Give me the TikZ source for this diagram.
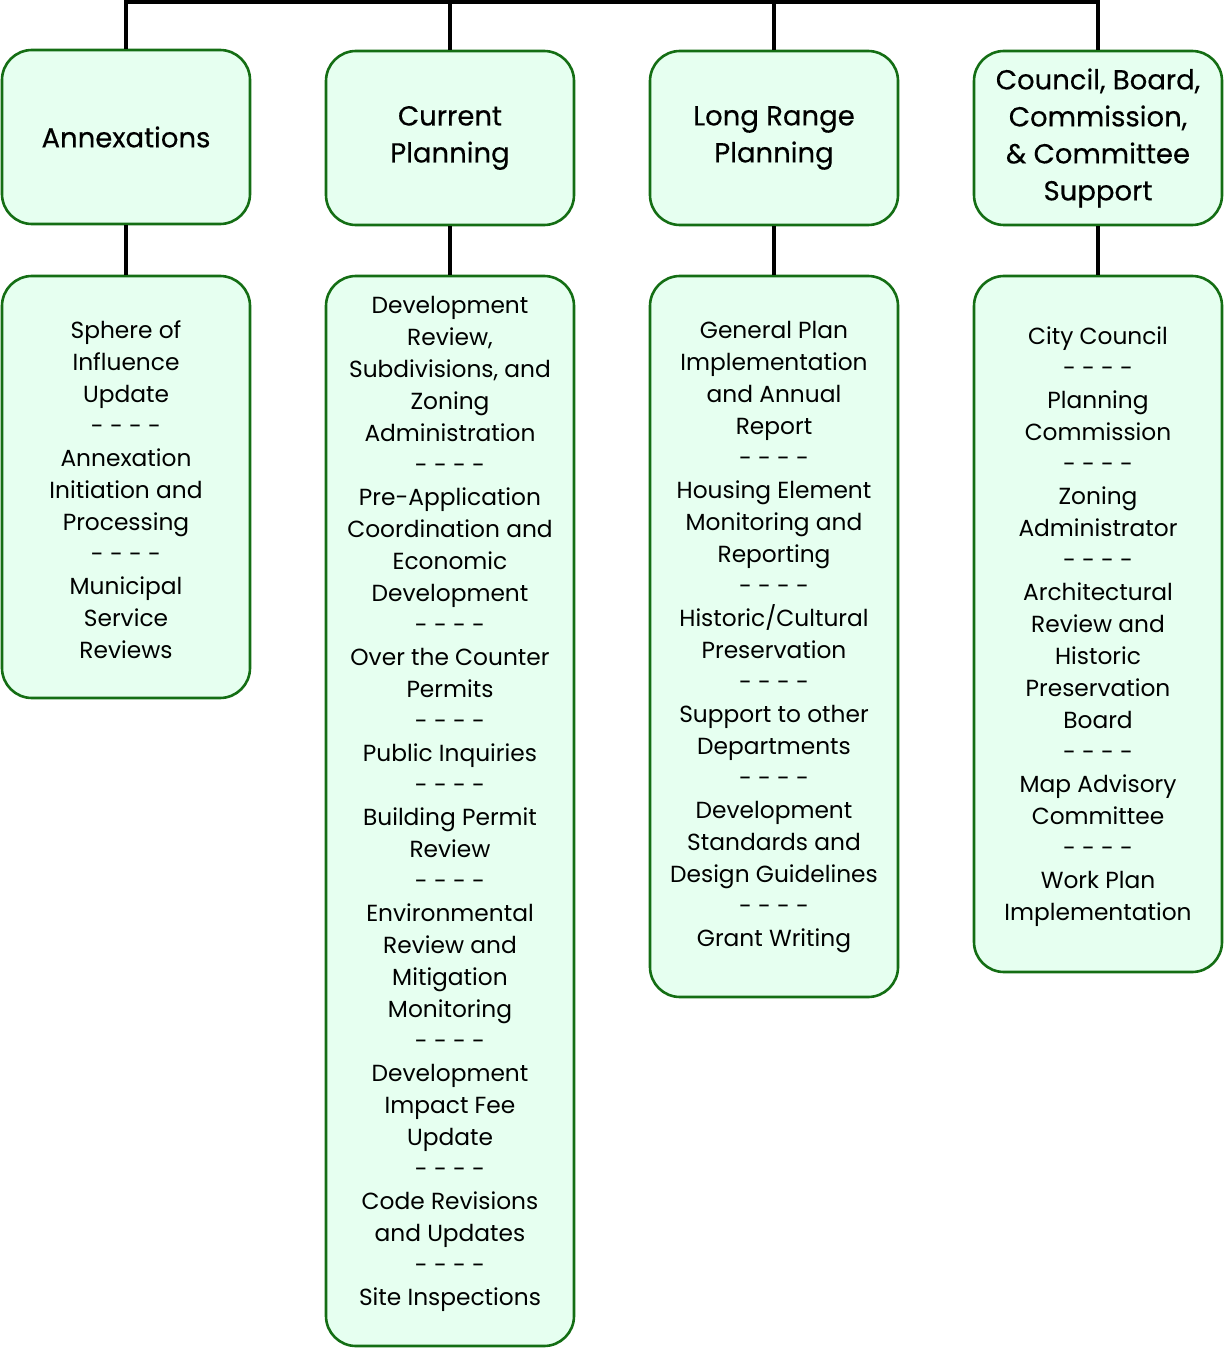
\documentclass[tikz,border=0pt]{standalone}
\usepackage{fontspec}
\setmainfont{Poppins}
\newfontfamily\headfont{Poppins}[FakeBold=0.4]
\definecolor{boxfill}{RGB}{230,255,240}
\definecolor{boxline}{RGB}{20,110,20}
\begin{document}
\begin{tikzpicture}[x=1pt,y=-1pt,
  box/.style={draw=boxline, fill=boxfill, line width=2.6pt, rounded corners=30pt,
    minimum width=248pt, align=center, inner sep=0pt},
  head/.style={box, minimum height=174pt, font=\headfont\fontsize{27.5}{37}\selectfont},
  list/.style={box},
  listtext/.style={align=center, inner sep=0pt, font=\fontsize{23.3}{32}\selectfont},
  conn/.style={line width=3.5pt, black}]
\useasboundingbox (0,0) rectangle (1225,1348);

% top-level headings
\node[head] (t1) at (126,137) {Annexations};
\node[head] (t2) at (450,138) {Current\\Planning};
\node[head] (t3) at (774,138) {Long Range\\Planning};
\node[head] (t4) at (1098,138) {Council, Board,\\Commission,\\\& Committee\\Support};

% duty list frames
\node[list, minimum height=422pt] (l1) at (126,487) {};
\node[list, minimum height=1070pt] (l2) at (450,811) {};
\node[list, minimum height=721pt] (l3) at (774,636.5) {};
\node[list, minimum height=696pt] (l4) at (1098,624) {};

% duty list texts
\node[listtext] (d1) at (126,490) {Sphere of\\Influence\\Update\\- - - -\\Annexation\\Initiation and\\Processing\\- - - -\\Municipal\\Service\\Reviews};
\node[listtext] (d2) at (450,804) {Development\\Review,\\Subdivisions, and\\Zoning\\Administration\\- - - -\\Pre-Application\\Coordination and\\Economic\\Development\\- - - -\\Over the Counter\\Permits\\- - - -\\Public Inquiries\\- - - -\\Building Permit\\Review\\- - - -\\Environmental\\Review and\\Mitigation\\Monitoring\\- - - -\\Development\\Impact Fee\\Update\\- - - -\\Code Revisions\\and Updates\\- - - -\\Site Inspections};
\node[listtext] (d3) at (774,637.5) {General Plan\\Implementation\\and Annual\\Report\\- - - -\\Housing Element\\Monitoring and\\Reporting\\- - - -\\Historic/Cultural\\Preservation\\- - - -\\Support to other\\Departments\\- - - -\\Development\\Standards and\\Design Guidelines\\- - - -\\Grant Writing};
\node[listtext] (d4) at (1098,627) {City Council\\- - - -\\Planning\\Commission\\- - - -\\Zoning\\Administrator\\- - - -\\Architectural\\Review and\\Historic\\Preservation\\Board\\- - - -\\Map Advisory\\Committee\\- - - -\\Work Plan\\Implementation};

% bus along the top
\coordinate (b1) at (126,2);
\coordinate (b2) at (450,2);
\coordinate (b3) at (774,2);
\coordinate (b4) at (1098,2);
\draw[conn, line join=miter] (t1.north) -- (b1) -- (b4) -- (t4.north);
\draw[conn] (b2) -- (t2.north);
\draw[conn] (b3) -- (t3.north);
\draw[conn] (t1.south) -- (l1.north);
\draw[conn] (t2.south) -- (l2.north);
\draw[conn] (t3.south) -- (l3.north);
\draw[conn] (t4.south) -- (l4.north);
\end{tikzpicture}
\end{document}
